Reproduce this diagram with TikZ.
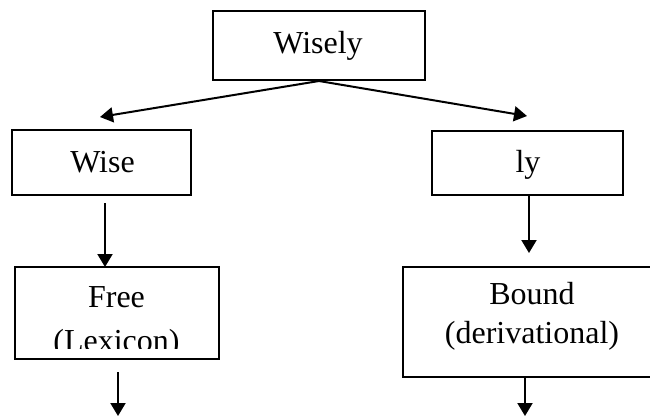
\documentclass[tikz,border=0pt]{standalone}
\usepackage{fontspec}
\setmainfont{Liberation Serif}
\usetikzlibrary{arrows.meta}
\begin{document}
\begin{tikzpicture}[x=1pt,y=-1pt,
  box/.style={draw, line width=2pt, rectangle, inner sep=0pt, outer sep=0pt},
  word/.style={anchor=base, inner sep=0pt, font=\fontsize{32}{36}\selectfont},
  link/.style={line width=2pt, -{Triangle[length=13pt,width=15pt]}}]
\useasboundingbox (0,0) rectangle (650,416);
\clip (0,0) rectangle (650,416);

% boxes
\node[box, minimum width=212pt, minimum height=69pt] (wisely) at (319,45.5) {};
\node[box, minimum width=179pt, minimum height=65pt] (wise) at (101.5,162.5) {};
\node[box, minimum width=191pt, minimum height=64pt] (ly) at (527.5,163) {};
\node[box, minimum width=204pt, minimum height=92pt] (free) at (117,313) {};
\node[box, minimum width=258pt, minimum height=110pt] (bound) at (532,322) {};

% labels
\node[word] (twisely) at (318,53.5) {Wisely};
\node[word] (twise) at (102.5,172) {Wise};
\node[word] (tly) at (528,172) {ly};
\node[word] (tfree) at (116.5,307) {Free};
\begin{scope}
  \clip (15,267) rectangle (219,348);
  \node[word] (tlex) at (116.5,351) {(Lexicon)};
\end{scope}
\node[word] (tbound) at (532,304) {Bound};
\node[word] (tderiv) at (532,343) {(derivational)};

% connector end points
\coordinate (split) at (319,81);
\coordinate (wisetip) at (100,117);
\coordinate (lytip) at (527,116);
\coordinate (wisefoot) at (105,203);
\coordinate (lyfoot) at (529,195);
\coordinate (lytip2) at (529,253);
\coordinate (freefoot) at (118,372);
\coordinate (freeout) at (118,416);
\coordinate (boundfoot) at (525,377);
\coordinate (boundout) at (525,416);

% connectors
\draw[link] (split) -- (wisetip);
\draw[link] (split) -- (lytip);
\draw[link] (wisefoot) -- (wisefoot |- free.north);
\draw[link] (lyfoot) -- (lytip2);
\draw[link] (freefoot) -- (freeout);
\draw[link] (boundfoot) -- (boundout);
\end{tikzpicture}
\end{document}
